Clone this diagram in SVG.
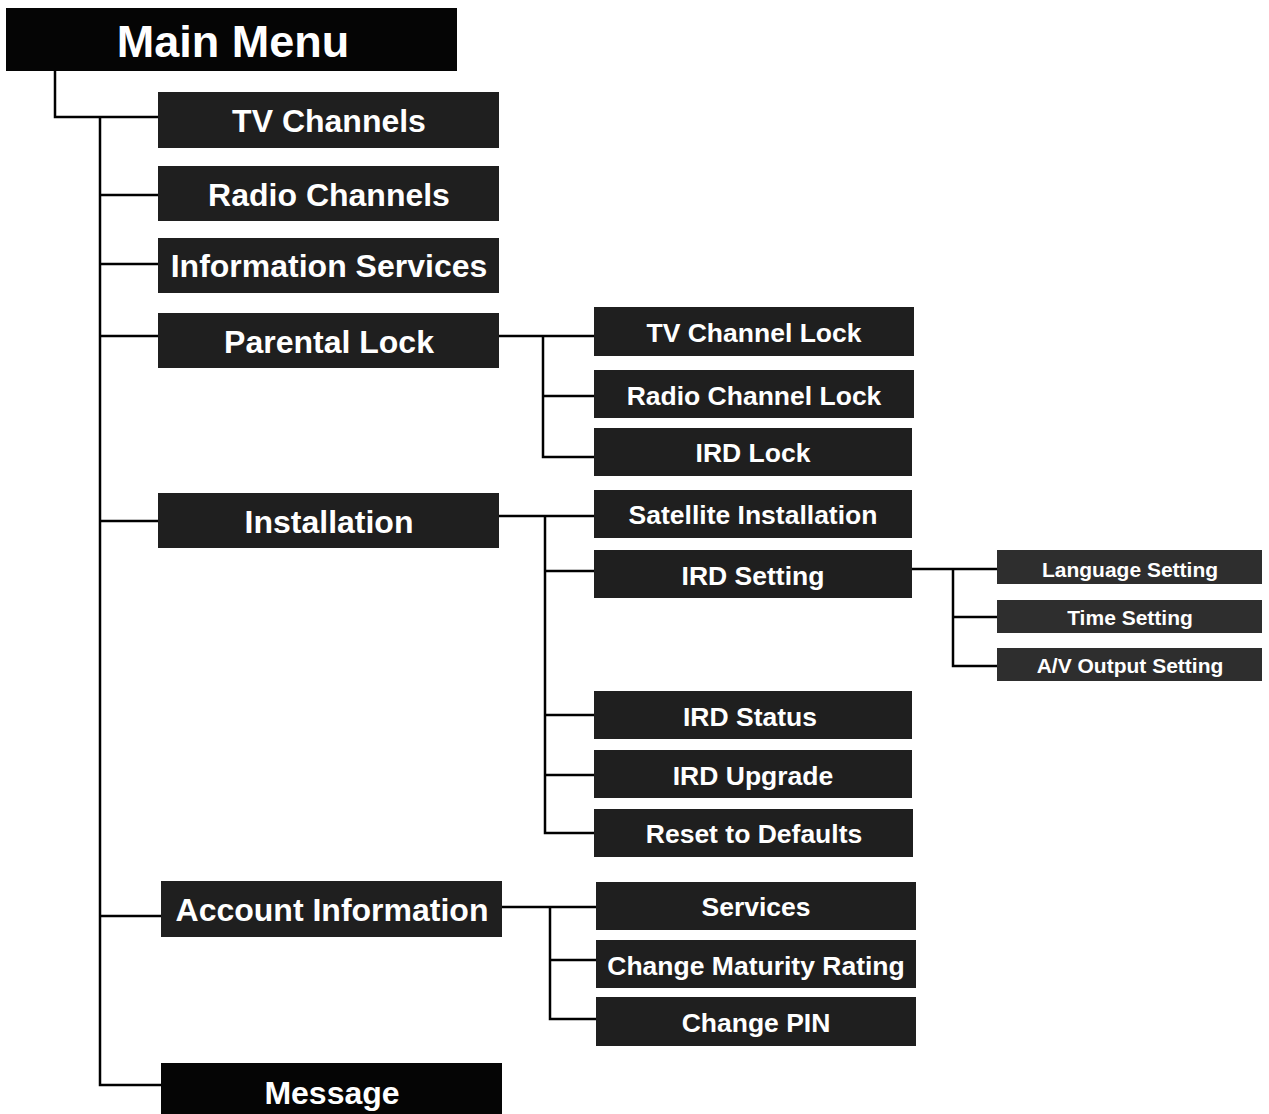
<svg xmlns="http://www.w3.org/2000/svg" width="1269" height="1114" viewBox="0 0 1269 1114">
<style>
.b{fill:#1f1f1f}
.m{fill:#050505}
.s{fill:#2e2e2e}
text{font-family:"Liberation Sans",Arial,sans-serif;font-weight:bold;fill:#fff;text-anchor:middle;dominant-baseline:central}
.t0{font-size:45px}
.t1{font-size:32px}
.t2{font-size:26.5px}
.t3{font-size:21px}
.c{fill:none;stroke:#000;stroke-width:2.5}
</style>
<rect width="1269" height="1114" fill="#fff"/>
<g id="connectors">
<path class="c" d="M55 71V117H158"/>
<path class="c" d="M100 117V1085H161"/>
<path class="c" d="M100 195H158M100 264H158M100 336H158M100 521H158M100 916H161"/>
<path class="c" d="M499 336H594M543 336V457H594M543 396H594"/>
<path class="c" d="M499 516H594M545 516V833H594M545 571H594M545 715H594M545 775H594"/>
<path class="c" d="M912 569H997M953 569V666H997M953 617H997"/>
<path class="c" d="M502 907H596M550 907V1019H596M550 960H596"/>
</g>
<g id="main"><rect class="m" x="6" y="8" width="451" height="63"/><text class="t0" x="233" y="41">Main Menu</text></g>
<g id="tv"><rect class="b" x="158" y="92" width="341" height="56"/><text class="t1" x="329" y="121">TV Channels</text></g>
<g id="radio"><rect class="b" x="158" y="166" width="341" height="55"/><text class="t1" x="329" y="195">Radio Channels</text></g>
<g id="info"><rect class="b" x="158" y="238" width="341" height="55"/><text class="t1" x="329" y="266">Information Services</text></g>
<g id="parental"><rect class="b" x="158" y="313" width="341" height="55"/><text class="t1" x="329" y="342">Parental Lock</text></g>
<g id="install"><rect class="b" x="158" y="493" width="341" height="55"/><text class="t1" x="329" y="522">Installation</text></g>
<g id="account"><rect class="b" x="161" y="881" width="341" height="56"/><text class="t1" x="332" y="910">Account Information</text></g>
<g id="message"><rect class="m" x="161" y="1063" width="341" height="51"/><text class="t1" x="332" y="1093">Message</text></g>
<g id="tvlock"><rect class="b" x="594" y="307" width="320" height="49"/><text class="t2" x="754" y="333">TV Channel Lock</text></g>
<g id="radiolock"><rect class="b" x="594" y="370" width="320" height="48"/><text class="t2" x="754" y="396">Radio Channel Lock</text></g>
<g id="irdlock"><rect class="b" x="594" y="428" width="318" height="48"/><text class="t2" x="753" y="453">IRD Lock</text></g>
<g id="satinst"><rect class="b" x="594" y="490" width="318" height="48"/><text class="t2" x="753" y="515">Satellite Installation</text></g>
<g id="irdset"><rect class="b" x="594" y="550" width="318" height="48"/><text class="t2" x="753" y="576">IRD Setting</text></g>
<g id="irdstatus"><rect class="b" x="594" y="691" width="318" height="48"/><text class="t2" x="750" y="717">IRD Status</text></g>
<g id="irdupgrade"><rect class="b" x="594" y="750" width="318" height="48"/><text class="t2" x="753" y="776">IRD Upgrade</text></g>
<g id="reset"><rect class="b" x="594" y="809" width="319" height="48"/><text class="t2" x="754" y="834">Reset to Defaults</text></g>
<g id="lang"><rect class="s" x="997" y="550" width="265" height="34"/><text class="t3" x="1130" y="569">Language Setting</text></g>
<g id="time"><rect class="s" x="997" y="600" width="265" height="33"/><text class="t3" x="1130" y="617">Time Setting</text></g>
<g id="av"><rect class="s" x="997" y="648" width="265" height="33"/><text class="t3" x="1130" y="665">A/V Output Setting</text></g>
<g id="services"><rect class="b" x="596" y="882" width="320" height="48"/><text class="t2" x="756" y="907">Services</text></g>
<g id="maturity"><rect class="b" x="596" y="940" width="320" height="48"/><text class="t2" x="756" y="966">Change Maturity Rating</text></g>
<g id="pin"><rect class="b" x="596" y="997" width="320" height="49"/><text class="t2" x="756" y="1023">Change PIN</text></g>
</svg>
